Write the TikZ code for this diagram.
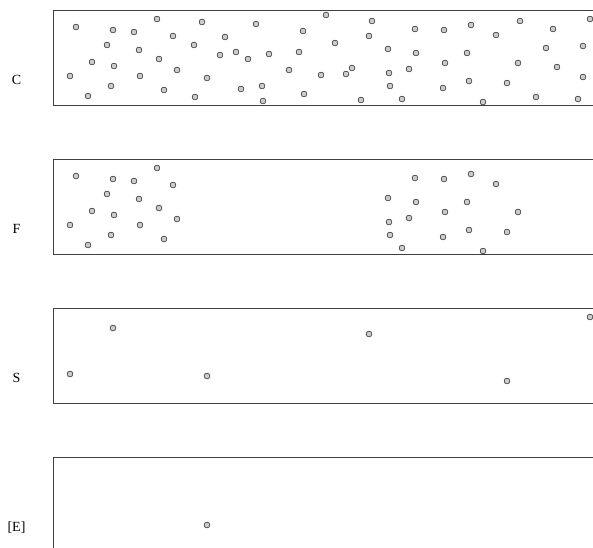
\documentclass[tikz,border=0pt]{standalone}
\usepackage{fontspec}
\setmainfont{Liberation Serif}
\tikzset{
  stripbox/.style={draw=black!75, line width=0.8pt},
  particle/.style={draw=black!85, fill=black!20, line width=0.55pt},
  striplabel/.style={anchor=base, inner sep=0pt, font=\fontsize{14}{17}\selectfont},
}
\begin{document}
\begin{tikzpicture}[x=1pt,y=-1pt]
  \useasboundingbox (0,0) rectangle (593,547);
  \clip (0,0) rectangle (593,547);
  % strip C: all particles
  \draw[stripbox] (53,10.7) rectangle (610,105);
  \node[striplabel] (labC) at (16.5,84.5) {C};
  \foreach \x/\y in {76/27,113/30,134/32,157/19,202/22,173/36,225/37,107/45,139/50,194/45,
    220/55,236/52,248/59,92/62,114/66,159/59,177/70,70/76,140/76,207/78,111/86,164/90,
    241/89,88/96,195/97,326/15,256/24,372/21,303/31,415/29,369/36,335/43,269/54,299/52,
    388/49,416/53,289/70,321/75,346/74,352/68,389/73,409/69,262/86,390/86,304/94,263/101,
    361/100,402/99,444/30,471/25,496/35,520/21,553/29,590/19,467/53,546/48,583/46,445/63,
    518/63,557/67,583/77,443/88,469/81,507/83,483/102,536/97,578/99}
    \filldraw[particle] (\x,\y) circle (2.9);
  % strip F: two clusters
  \begin{scope}[yshift=-149pt]
    \draw[stripbox] (53,10.7) rectangle (610,105);
    \node[striplabel] (labF) at (16.5,84.5) {F};
    \foreach \x/\y in {76/27,113/30,134/32,157/19,173/36,107/45,139/50,92/62,114/66,159/59,
      177/70,70/76,140/76,111/86,164/90,88/96,
      415/29,444/30,471/25,496/35,388/49,416/53,467/53,445/63,518/63,389/73,409/69,390/86,
      443/88,469/81,507/83,402/99,483/102}
      \filldraw[particle] (\x,\y) circle (2.9);
  \end{scope}
  % strip S: few particles
  \begin{scope}[yshift=-298pt]
    \draw[stripbox] (53,10.7) rectangle (610,105);
    \node[striplabel] (labS) at (16.5,84.5) {S};
    \foreach \x/\y in {113/30,70/76,207/78,369/36,507/83,590/19}
      \filldraw[particle] (\x,\y) circle (2.9);
  \end{scope}
  % strip [E]: one particle
  \begin{scope}[yshift=-447pt]
    \draw[stripbox] (53,10.7) rectangle (610,105);
    \node[striplabel] (labE) at (16.5,84.5) {[E]};
    \filldraw[particle] (207,78) circle (2.9);
  \end{scope}
\end{tikzpicture}
\end{document}
